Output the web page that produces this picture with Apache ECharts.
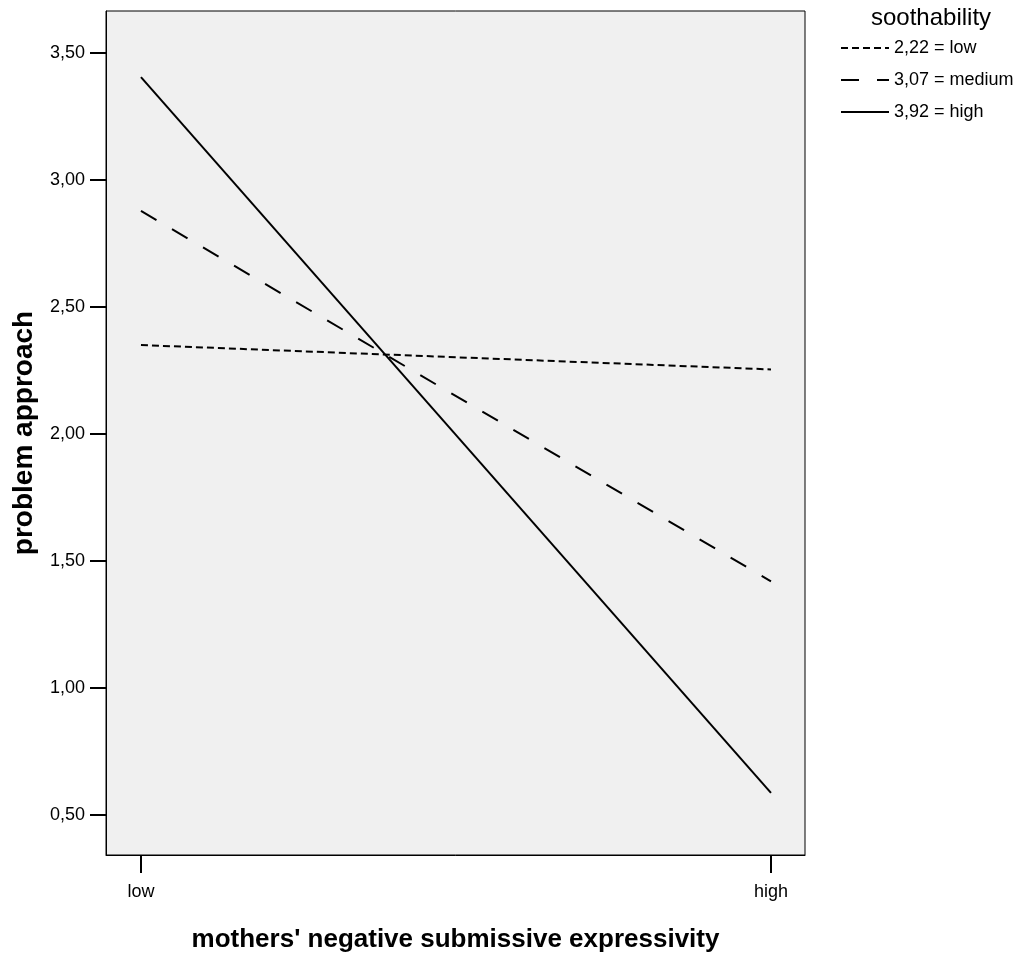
<!DOCTYPE html>
<html>
<head>
<meta charset="utf-8">
<script src="https://cdn.jsdelivr.net/npm/echarts@6/dist/echarts.min.js"></script>
<style>
  html, body { margin: 0; padding: 0; background: #fff; }
  #chart { width: 1024px; height: 955px; }
</style>
</head>
<body>
<div id="chart"></div>
<script>
// x positions: 0 = low, 1 = high
const categories = ['low', 'high'];
const xPositions = [0, 1];
const seriesNames = ['2,22 = low', '3,07 = medium', '3,92 = high'];
const lowValues = [2.35, 2.254];
const mediumValues = [2.878, 1.42];
const highValues = [3.405, 0.587];
const yTicks = [0.5, 1.0, 1.5, 2.0, 2.5, 3.0, 3.5];

const font = '"Liberation Sans", Arial, sans-serif';

const pairs = vals => xPositions.map((x, i) => [x, vals[i]]);

const chart = echarts.init(document.getElementById('chart'));

const lineSeries = (name, vals, dash) => ({
  name: name,
  type: 'line',
  data: pairs(vals),
  symbol: 'none',
  color: '#000',
  lineStyle: { color: '#000', width: 2, type: dash }
});

chart.setOption({
  animation: false,
  backgroundColor: '#fff',
  title: {
    text: 'soothability',
    left: 866,
    top: 1,
    textStyle: { fontFamily: font, fontSize: 24, fontWeight: 'normal', color: '#000' }
  },
  legend: {
    orient: 'vertical',
    left: 840,
    top: 39,
    padding: 0,
    itemWidth: 48,
    itemHeight: 14,
    itemGap: 14,
    data: seriesNames,
    itemStyle: { opacity: 0 },
    lineStyle: { width: 2 },
    textStyle: { fontFamily: font, fontSize: 18, color: '#000' }
  },
  grid: {
    left: 106,
    top: 11,
    right: 219,
    bottom: 100,
    containLabel: false,
    outerBoundsMode: 'none',
    show: true,
    backgroundColor: '#f0f0f0',
    borderColor: '#000',
    borderWidth: 1
  },
  xAxis: {
    type: 'value',
    min: -0.0555,
    max: 1.054,
    name: "mothers' negative submissive expressivity",
    nameLocation: 'middle',
    nameGap: 72,
    nameTextStyle: { fontFamily: font, fontSize: 26, fontWeight: 'bold', color: '#000' },
    axisLine: { show: true, onZero: false, lineStyle: { color: '#000', width: 1 } },
    axisTick: { show: true, length: 18, customValues: xPositions, lineStyle: { color: '#000', width: 2 } },
    axisLabel: {
      customValues: xPositions,
      formatter: v => categories[Math.round(v)],
      margin: 28,
      fontFamily: font, fontSize: 18, color: '#000'
    },
    splitLine: { show: false }
  },
  yAxis: {
    type: 'value',
    min: 0.3425,
    max: 3.665,
    name: 'problem approach',
    nameLocation: 'middle',
    nameGap: 68,
    nameTextStyle: { fontFamily: font, fontSize: 28, fontWeight: 'bold', color: '#000' },
    axisLine: { show: true, onZero: false, lineStyle: { color: '#000', width: 1 } },
    axisTick: { show: true, length: 16, customValues: yTicks, lineStyle: { color: '#000', width: 2 } },
    axisLabel: {
      customValues: yTicks,
      formatter: v => v.toFixed(2).replace('.', ','),
      margin: 21,
      fontFamily: font, fontSize: 18, color: '#000'
    },
    splitLine: { show: false }
  },
  series: [
    lineSeries(seriesNames[0], lowValues, [7, 4]),
    lineSeries(seriesNames[1], mediumValues, [18, 18]),
    lineSeries(seriesNames[2], highValues, 'solid')
  ]
});
</script>
</body>
</html>
